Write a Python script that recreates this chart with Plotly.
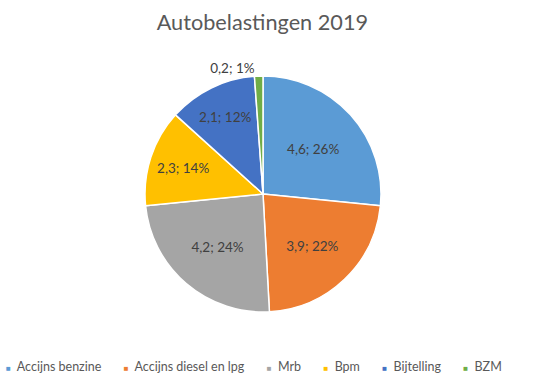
import plotly.graph_objects as go

categories = ["Accijns benzine", "Accijns diesel en lpg", "Mrb", "Bpm", "Bijtelling", "BZM"]
values = [4.6, 3.9, 4.2, 2.3, 2.1, 0.2]
value_labels = ["4,6", "3,9", "4,2", "2,3", "2,1", "0,2"]
pct_labels = ["26%", "22%", "24%", "14%", "12%", "1%"]
colors = ["#5B9BD5", "#ED7D31", "#A5A5A5", "#FFC000", "#4472C4", "#70AD47"]

texts = [f"{v}; {p}" for v, p in zip(value_labels, pct_labels)]
positions = ["inside"] * (len(values) - 1) + ["outside"]

fig = go.Figure(go.Pie(
    labels=categories,
    values=values,
    text=texts,
    textinfo="text",
    textposition=positions,
    insidetextorientation="horizontal",
    textfont=dict(family="Lato", size=13.5, color="#404040"),
    marker=dict(colors=colors, line=dict(color="white", width=1.5)),
    sort=False,
    direction="clockwise",
    rotation=0,
    showlegend=False,
    domain=dict(x=[143/541, 383/541], y=[1-312/379, 1-76/379]),
))

# Legend built as a single text line from the data arrays
nb = "\u00a0"
parts = []
for c, col in zip(categories, colors):
    parts.append(f"<span style='color:{col};font-size:8px'>■</span>{nb*2}{c}")
legend_text = (nb * 7).join(parts)

fig.update_layout(
    width=541, height=379,
    margin=dict(l=0, r=0, t=0, b=0),
    paper_bgcolor="white",
    title=dict(text="Autobelastingen 2019", x=0.485, xanchor="center", y=1-22/379, yanchor="middle",
               font=dict(family="Lato", size=21.7, color="#595959")),
    annotations=[dict(text=legend_text, x=254/541, y=1-366/379, xref="paper", yref="paper",
                      xanchor="center", yanchor="middle", showarrow=False,
                      font=dict(family="Lato", size=12.5, color="#595959"))],
)

fig.write_html("out.html", config={"displayModeBar": False},
               post_script="document.body.style.margin='0';")
